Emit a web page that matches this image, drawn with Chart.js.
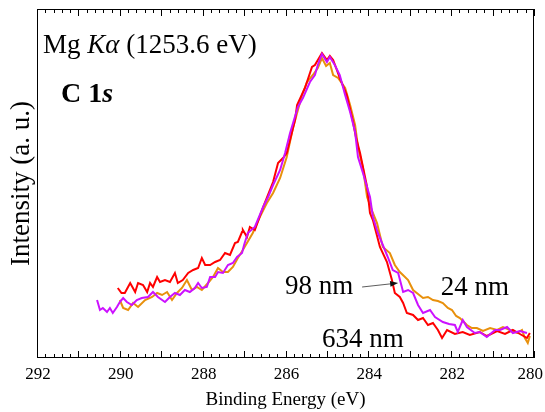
<!DOCTYPE html>
<html>
<head>
<meta charset="utf-8">
<script src="https://cdn.jsdelivr.net/npm/chart.js@4"></script>
<style>
  html, body { margin: 0; padding: 0; background: #fff; }
  #wrap { width: 545px; height: 412px; }
</style>
</head>
<body>
<div id="wrap"><canvas id="xps"></canvas></div>
<script>
// --- DATA (binding energy in eV, intensity in arbitrary units) ---
const redE = [290.05, 289.96, 289.88, 289.75, 289.63, 289.56, 289.44, 289.34, 289.27, 289.20, 289.10, 289.03, 288.91, 288.79, 288.67, 288.60, 288.48, 288.35, 288.23, 288.11, 288.02, 287.94, 287.82, 287.70, 287.58, 287.46, 287.34, 287.22, 287.15, 287.05, 287.03, 286.93, 286.86, 286.74, 286.54, 286.30, 286.18, 286.06, 285.97, 285.77, 285.72, 285.53, 285.36, 285.29, 285.12, 285.00, 284.93, 284.85, 284.76, 284.69, 284.52, 284.37, 284.30, 284.20, 284.03, 283.96, 283.89, 283.72, 283.55, 283.43, 283.36, 283.24, 283.16, 283.07, 282.92, 282.80, 282.68, 282.56, 282.44, 282.32, 282.22, 282.10, 281.91, 281.72, 281.55, 281.31, 281.14, 280.89, 280.70, 280.51, 280.34, 280.17, 280.10];
const redI = [69, 64, 64, 74, 65, 74, 72, 65, 74, 70, 80, 75, 77, 75, 84, 74, 77, 84, 87, 89, 99, 92, 92, 95, 97, 104, 102, 114, 115, 125, 127, 120, 130, 127, 150, 175, 194, 199, 204, 237, 252, 269, 290, 292, 304, 297, 301, 297, 287, 279, 262, 235, 220, 204, 170, 144, 137, 110, 95, 77, 64, 60, 54, 44, 42, 37, 39, 32, 34, 27, 19, 27, 23, 25, 22, 25, 21, 26, 23, 27, 23, 19, 24];

const orangeE = [290.00, 289.92, 289.80, 289.68, 289.56, 289.39, 289.22, 289.10, 288.98, 288.86, 288.74, 288.62, 288.50, 288.38, 288.26, 288.14, 288.02, 287.87, 287.75, 287.63, 287.51, 287.39, 287.27, 287.15, 287.03, 286.79, 286.62, 286.45, 286.30, 286.13, 285.97, 285.82, 285.60, 285.48, 285.34, 285.22, 285.12, 285.02, 284.93, 284.85, 284.73, 284.56, 284.44, 284.32, 284.25, 284.13, 284.03, 283.89, 283.79, 283.65, 283.48, 283.36, 283.24, 283.14, 283.04, 282.92, 282.80, 282.68, 282.56, 282.44, 282.32, 282.20, 282.08, 281.98, 281.88, 281.79, 281.62, 281.50, 281.38, 281.23, 281.06, 280.89, 280.75, 280.58, 280.41, 280.29, 280.22, 280.15, 280.10];
const orangeI = [57, 49, 47, 54, 50, 57, 60, 64, 62, 65, 57, 64, 69, 77, 67, 70, 67, 74, 80, 89, 85, 85, 90, 99, 107, 124, 140, 154, 164, 179, 200, 229, 262, 275, 282, 289, 299, 291, 294, 282, 279, 269, 252, 232, 210, 189, 160, 144, 134, 110, 104, 92, 85, 81, 77, 67, 63, 59, 60, 57, 56, 54, 49, 47, 41, 39, 32, 29, 29, 26, 29, 27, 30, 27, 24, 27, 19, 14, 21];

const magentaE = [290.55, 290.48, 290.41, 290.31, 290.24, 290.17, 290.07, 290.00, 289.92, 289.83, 289.71, 289.59, 289.47, 289.32, 289.20, 289.08, 288.91, 288.79, 288.67, 288.55, 288.43, 288.31, 288.19, 288.11, 288.02, 287.90, 287.82, 287.70, 287.63, 287.51, 287.39, 287.27, 287.17, 287.05, 287.00, 286.91, 286.74, 286.54, 286.42, 286.30, 286.13, 286.01, 285.89, 285.70, 285.58, 285.41, 285.29, 285.22, 285.12, 285.00, 284.93, 284.81, 284.69, 284.56, 284.44, 284.32, 284.25, 284.13, 284.01, 283.96, 283.89, 283.77, 283.67, 283.53, 283.41, 283.28, 283.16, 283.04, 282.92, 282.80, 282.68, 282.51, 282.39, 282.20, 282.05, 281.91, 281.84, 281.72, 281.62, 281.43, 281.31, 281.14, 280.94, 280.82, 280.65, 280.51, 280.34, 280.17];
const magentaI = [57, 47, 49, 45, 49, 44, 50, 55, 59, 55, 52, 57, 59, 60, 65, 60, 55, 60, 64, 62, 67, 65, 69, 74, 69, 70, 80, 80, 85, 84, 92, 94, 100, 104, 112, 124, 130, 150, 160, 172, 187, 204, 224, 250, 259, 275, 282, 292, 303, 295, 300, 292, 282, 262, 245, 225, 200, 184, 167, 160, 140, 124, 114, 100, 87, 84, 65, 67, 64, 52, 44, 47, 40, 35, 33, 32, 25, 37, 30, 24, 25, 20, 27, 27, 30, 24, 26, 24];

const xTickLabels = [292, 290, 288, 286, 284, 282, 280];

const serif = '"Liberation Serif", "Times New Roman", serif';

function toPoints(xs, ys) {
    return xs.map((x, i) => ({ x: x, y: ys[i] }));
}

// frame, inward ticks, tick labels and text labels
const decorations = {
    id: 'decorations',
    afterDraw(chart) {
        const ctx = chart.ctx;
        const area = chart.chartArea;
        const xs = chart.scales.x;
        const ys = chart.scales.y;
        const W = chart.width;

        ctx.save();
        ctx.strokeStyle = '#000';
        ctx.lineWidth = 1;
        ctx.strokeRect(area.left + 0.5, area.top + 0.5, area.right - area.left - 1, area.bottom - area.top - 1);

        // minor every 0.2 eV, major every 1 eV, on bottom and top edges
        ctx.beginPath();
        for (let k = 0; k <= 60; k++) {
            const e = 280 + k * 0.2;
            const px = Math.round(xs.getPixelForValue(e)) + 0.5;
            const len = (k % 5 === 0) ? 7 : 4;
            ctx.moveTo(px, area.bottom);
            ctx.lineTo(px, area.bottom - len);
            ctx.moveTo(px, area.top);
            ctx.lineTo(px, area.top + len);
        }
        ctx.stroke();

        // tick labels, kept inside the canvas
        ctx.fillStyle = '#000';
        ctx.font = '17px ' + serif;
        ctx.textAlign = 'center';
        ctx.textBaseline = 'middle';
        xTickLabels.forEach(v => {
            const s = String(v);
            const half = ctx.measureText(s).width / 2;
            let px = xs.getPixelForValue(v) + 1;
            px = Math.min(px, W - 2 - half);
            ctx.fillText(s, px, area.bottom + 17);
        });

        ctx.textBaseline = 'alphabetic';
        ctx.textAlign = 'left';

        // source line
        let x = area.left + 6;
        const y1 = 53;
        ctx.font = '27px ' + serif;
        ctx.fillText('Mg ', x, y1);
        x += ctx.measureText('Mg ').width;
        ctx.font = 'italic 27px ' + serif;
        ctx.fillText('Kα', x, y1);
        x += ctx.measureText('Kα').width;
        ctx.font = '27px ' + serif;
        ctx.fillText(' (1253.6 eV)', x, y1);

        // core level
        x = area.left + 24;
        ctx.font = 'bold 28px ' + serif;
        ctx.fillText('C 1', x, 102);
        x += ctx.measureText('C 1').width;
        ctx.font = 'bold italic 28px ' + serif;
        ctx.fillText('s', x, 102);

        // thickness labels
        ctx.font = '27px ' + serif;
        ctx.fillText('98 nm', xs.getPixelForValue(286.01), ys.getPixelForValue(63));
        ctx.fillText('24 nm', xs.getPixelForValue(282.25), ys.getPixelForValue(62));
        ctx.fillText('634 nm', xs.getPixelForValue(285.12), ys.getPixelForValue(10));

        // arrow from "98 nm" to the 98 nm trace
        const ax0 = xs.getPixelForValue(284.15), ay0 = ys.getPixelForValue(70);
        const ax1 = xs.getPixelForValue(283.28), ay1 = ys.getPixelForValue(74);
        ctx.strokeStyle = '#333';
        ctx.lineWidth = 0.8;
        ctx.beginPath();
        ctx.moveTo(ax0, ay0);
        ctx.lineTo(ax1 - 6, ay1 + 0.7);
        ctx.stroke();
        const ang = Math.atan2(ay1 - ay0, ax1 - ax0);
        ctx.beginPath();
        ctx.moveTo(ax1, ay1);
        ctx.lineTo(ax1 - 8 * Math.cos(ang) + 3 * Math.sin(ang), ay1 - 8 * Math.sin(ang) - 3 * Math.cos(ang));
        ctx.lineTo(ax1 - 8 * Math.cos(ang) - 3 * Math.sin(ang), ay1 - 8 * Math.sin(ang) + 3 * Math.cos(ang));
        ctx.closePath();
        ctx.fillStyle = '#111';
        ctx.fill();
        ctx.restore();
    }
};

const ctx = document.getElementById('xps').getContext('2d');
const xpsChart = new Chart(ctx, {
    type: 'line',
    data: {
        datasets: [
            { label: '634 nm', data: toPoints(redE, redI), borderColor: '#ff0000', order: 1 },
            { label: '24 nm', data: toPoints(orangeE, orangeI), borderColor: '#e8900c', order: 2 },
            { label: '98 nm', data: toPoints(magentaE, magentaI), borderColor: '#cc11ff', order: 0 }
        ]
    },
    options: {
        responsive: true,
        maintainAspectRatio: false,
        animation: false,
        layout: { padding: { top: 9, right: 11, left: 0, bottom: 0 } },
        elements: {
            line: { borderWidth: 2, tension: 0, fill: false },
            point: { radius: 0 }
        },
        plugins: {
            legend: { display: false },
            tooltip: { enabled: false }
        },
        scales: {
            x: {
                type: 'linear',
                reverse: true,
                min: 280,
                max: 292,
                afterFit: (scale) => {
                    scale.height = 54;
                    scale.paddingLeft = 0;
                    scale.paddingRight = 0;
                },
                ticks: { display: false },
                grid: { display: false, drawTicks: false },
                border: { display: false },
                title: {
                    display: true,
                    text: 'Binding Energy (eV)',
                    color: '#000',
                    font: { family: serif, size: 19 },
                    padding: { top: 0, bottom: 1 }
                }
            },
            y: {
                min: -1,
                max: 348,
                afterFit: (scale) => { scale.width = 37; },
                ticks: { display: false },
                grid: { display: false, drawTicks: false },
                border: { display: false },
                title: {
                    display: true,
                    text: 'Intensity (a. u.)',
                    color: '#000',
                    font: { family: serif, size: 27 },
                    padding: { top: 6, bottom: 0 }
                }
            }
        }
    },
    plugins: [decorations]
});
</script>
</body>
</html>
